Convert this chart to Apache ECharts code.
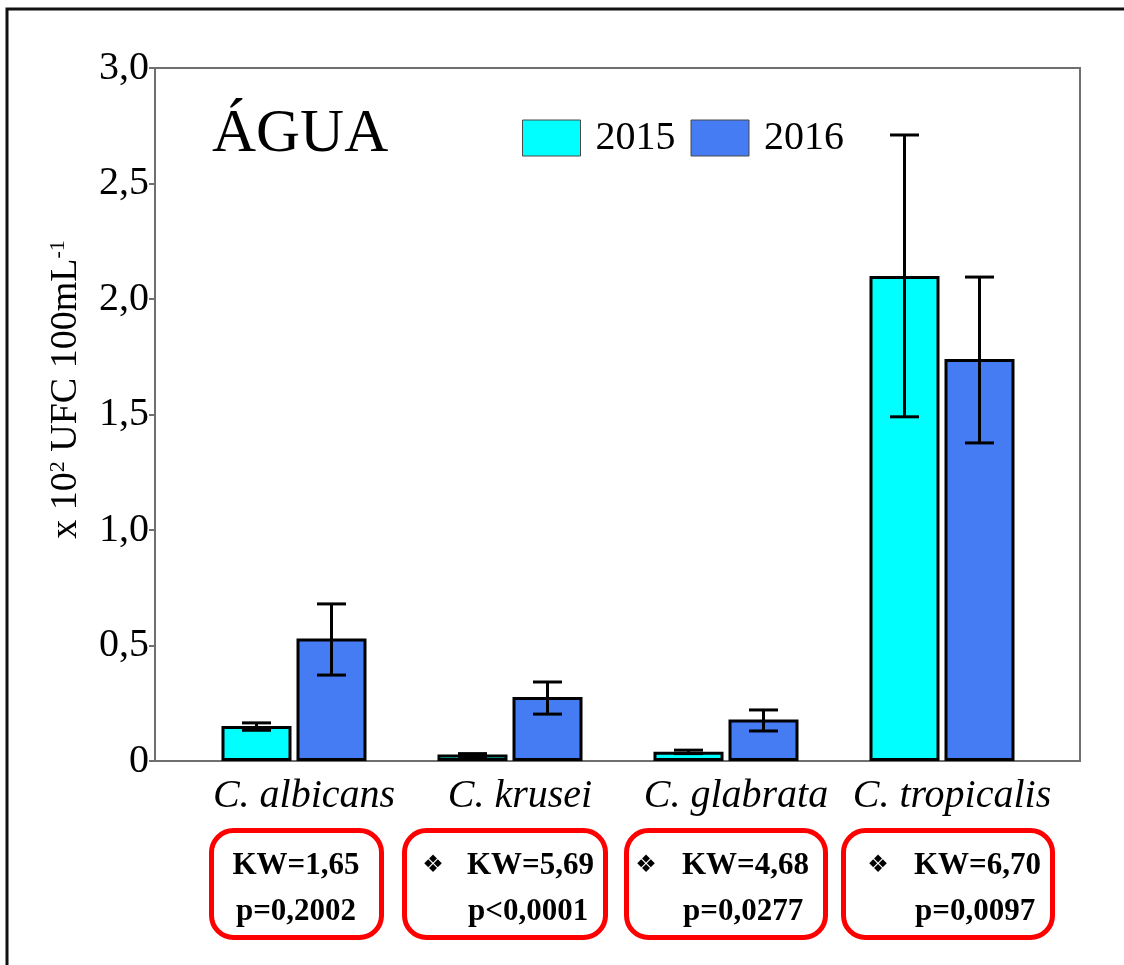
<!DOCTYPE html>
<html>
<head>
<meta charset="utf-8">
<script src="https://cdn.jsdelivr.net/npm/echarts@6/dist/echarts.min.js"></script>
<style>html,body{margin:0;padding:0;background:#fff}#c{width:1124px;height:965px}</style>
</head>
<body>
<div id="c"></div>
<script>
// ---- data ----
const categories = ['C. albicans', 'C. krusei', 'C. glabrata', 'C. tropicalis'];
const seriesNames = ['2015', '2016'];
const mean2015 = [0.152, 0.028, 0.040, 2.10];
const low2015  = [0.133, 0.017, 0.032, 1.49];
const high2015 = [0.165, 0.032, 0.047, 2.71];
const mean2016 = [0.530, 0.277, 0.180, 1.74];
const low2016  = [0.372, 0.203, 0.130, 1.377];
const high2016 = [0.680, 0.342, 0.221, 2.095];
const kwTexts = ['KW=1,65', 'KW=5,69', 'KW=4,68', 'KW=6,70'];
const pTexts  = ['p=0,2002', 'p<0,0001', 'p=0,0277', 'p=0,0097'];
const significant = [false, true, true, true];
const titleText = 'ÁGUA';

// ---- layout / style ----
const SERIF = '"Liberation Serif", "Times New Roman", serif';
const colors = ['#00FFFF', '#457BF3'];
const BAR_W = 70, BAR_GAP_PX = 5;
const boxLayout = [
  {x: 209, w: 175, textX: 296, center: true},
  {x: 402, w: 206, markX: 433, textX: 467},
  {x: 624, w: 204, markX: 646, textX: 682},
  {x: 841, w: 214, markX: 878, textX: 914}
];
const BOX_Y = 828, BOX_H = 112;

function fmtY(v) { return v === 0 ? '0' : v.toFixed(1).replace('.', ','); }

function errData(low, high, s) {
  return low.map((l, i) => [i, l, high[i], s]);
}

const errorSeries = [0, 1].map(s => ({
  type: 'custom',
  xAxisIndex: 1, yAxisIndex: 1,
  z: 10,
  silent: true,
  data: s === 0 ? errData(low2015, high2015, 0) : errData(low2016, high2016, 1),
  renderItem: function (params, api) {
    const c = api.value(0);
    const lo = api.coord([c, api.value(1)]);
    const hi = api.coord([c, api.value(2)]);
    const off = (api.value(3) === 0 ? -1 : 1) * (BAR_W + BAR_GAP_PX) / 2;
    const x = lo[0] + off;
    const cap = 14.5;
    const st = {stroke: '#000', lineWidth: 3};
    return {
      type: 'group',
      children: [
        {type: 'line', shape: {x1: x, y1: lo[1], x2: x, y2: hi[1]}, style: st},
        {type: 'line', shape: {x1: x - cap, y1: hi[1], x2: x + cap, y2: hi[1]}, style: st},
        {type: 'line', shape: {x1: x - cap, y1: lo[1], x2: x + cap, y2: lo[1]}, style: st}
      ]
    };
  }
}));

const graphics = [
  {type: 'rect', shape: {x: 7, y: 9, width: 1300, height: 1100}, style: {fill: 'none', stroke: '#111', lineWidth: 3}, z: 100}
];
boxLayout.forEach((b, i) => {
  graphics.push({type: 'rect', shape: {x: b.x + 2.5, y: BOX_Y + 2.5, width: b.w - 5, height: BOX_H - 5, r: 22},
    style: {fill: 'none', stroke: '#FF0000', lineWidth: 5}, z: 100});
  const align = b.center ? 'center' : 'left';
  graphics.push({type: 'text', x: b.textX, y: 866, z: 100,
    style: {text: kwTexts[i], font: 'bold 31px ' + SERIF, fill: '#000', textAlign: align, textVerticalAlign: 'middle'}});
  graphics.push({type: 'text', x: b.textX + (b.center ? 0 : 1), y: 912, z: 100,
    style: {text: pTexts[i], font: 'bold 31px ' + SERIF, fill: '#000', textAlign: align, textVerticalAlign: 'middle'}});
  if (significant[i]) {
    graphics.push({type: 'text', x: b.markX, y: 866, z: 100,
      style: {text: '\u2756', font: '24px "DejaVu Sans"', fill: '#000', textAlign: 'center', textVerticalAlign: 'middle'}});
  }
});

const option = {
  animation: false,
  backgroundColor: '#fff',
  title: {
    text: titleText, left: 212, top: 104, padding: 0,
    textStyle: {fontFamily: SERIF, fontSize: 61, fontWeight: 'normal', color: '#000'}
  },
  legend: {
    left: 522, top: 118, padding: 0,
    itemWidth: 58, itemHeight: 36, itemGap: 15,
    icon: 'rect',
    data: seriesNames,
    itemStyle: {borderWidth: 1, borderColor: '#4a4a4a'},
    textStyle: {fontFamily: SERIF, fontSize: 40, color: '#000', padding: [0, 0, 0, 10]}
  },
  grid: [
    {left: 155, top: 68, width: 925, height: 693, show: true, borderColor: '#6f6f6f', borderWidth: 2},
    {left: 186, top: 68, width: 864, height: 693}
  ],
  xAxis: [
    {type: 'value', gridIndex: 0, min: 0, max: 1, show: false},
    {type: 'category', gridIndex: 1, data: categories,
      axisLine: {show: false}, axisTick: {show: false},
      axisLabel: {interval: 0, fontFamily: SERIF, fontSize: 40, fontStyle: 'italic', color: '#000', margin: 15,
        padding: [0, 0, 0, 20]}}
  ],
  yAxis: [
    {type: 'value', gridIndex: 0, min: 0, max: 3, interval: 0.5,
      splitLine: {show: false},
      axisLine: {show: true, lineStyle: {color: '#6f6f6f', width: 2}},
      axisTick: {show: true, length: 6, lineStyle: {color: '#6f6f6f', width: 2}},
      axisLabel: {formatter: fmtY, fontFamily: SERIF, fontSize: 40, color: '#000', margin: 6},
      name: '{n|x 10}{s|2}{n| UFC 100mL}{s|-1}',
      nameLocation: 'middle', nameRotate: 90, nameGap: 70,
      nameTextStyle: {
        padding: [0, 0, 0, 50],
        rich: {
          n: {fontFamily: SERIF, fontSize: 38, color: '#000'},
          s: {fontFamily: SERIF, fontSize: 22, color: '#000', verticalAlign: 'top', padding: [0, 0, 14, 0]}
        }
      }
    },
    {type: 'value', gridIndex: 1, min: 0, max: 3, show: false}
  ],
  series: [
    {name: seriesNames[0], type: 'bar', xAxisIndex: 1, yAxisIndex: 1, data: mean2015,
      barWidth: BAR_W, barGap: (BAR_GAP_PX / BAR_W * 100) + '%',
      itemStyle: {color: colors[0], borderColor: '#000', borderWidth: 3}},
    {name: seriesNames[1], type: 'bar', xAxisIndex: 1, yAxisIndex: 1, data: mean2016,
      barWidth: BAR_W, barGap: (BAR_GAP_PX / BAR_W * 100) + '%',
      itemStyle: {color: colors[1], borderColor: '#000', borderWidth: 3}},
    ...errorSeries
  ],
  graphic: graphics
};

const chart = echarts.init(document.getElementById('c'), null, {renderer: 'canvas'});
chart.setOption(option);
</script>
</body>
</html>
